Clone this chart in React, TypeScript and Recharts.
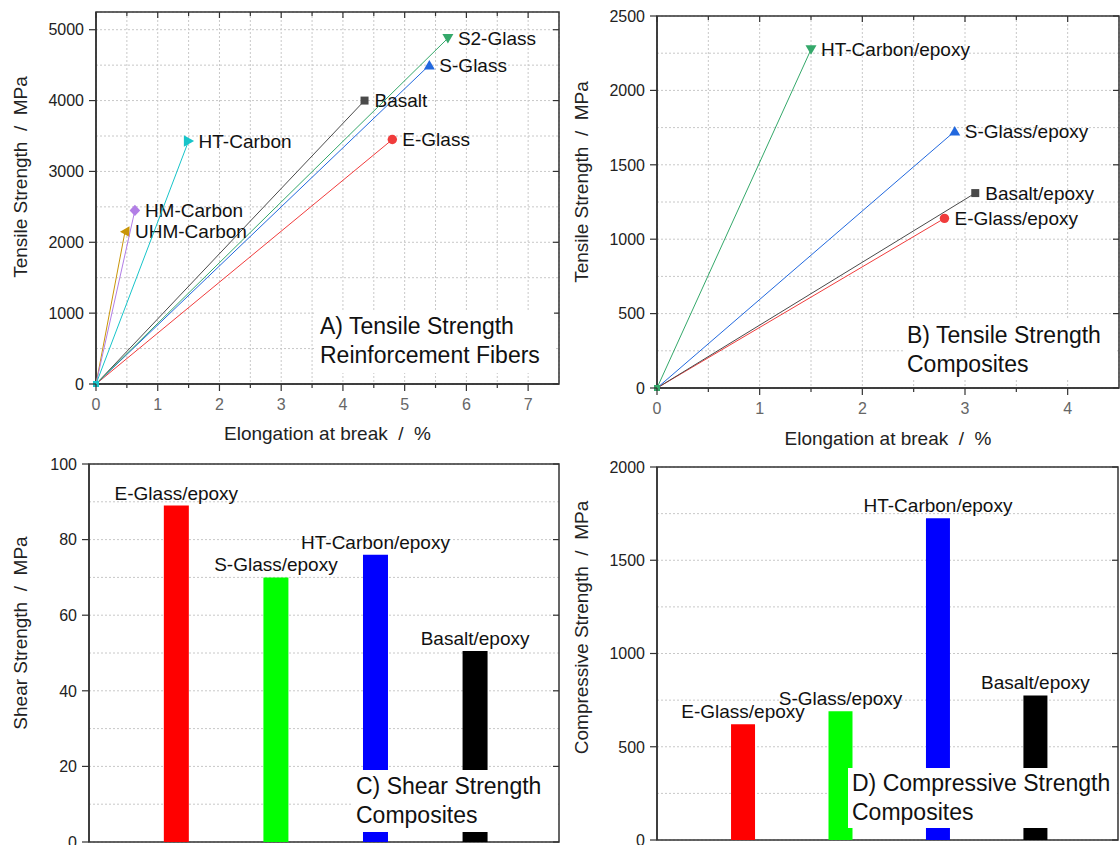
import React from 'react';
import {
  ScatterChart, Scatter, BarChart, Bar, Cell, XAxis, YAxis, CartesianGrid, LabelList, Label, ReferenceArea,
} from 'recharts';

const FONT = '"Liberation Sans", Arial, sans-serif';
const AXIS = '#333';
const GRID = '#c8c8c8';

// A) reinforcement fibres: elongation at break (%) vs tensile strength (MPa)
const fiberNames = ['E-Glass', 'S-Glass', 'Basalt', 'S2-Glass', 'UHM-Carbon', 'HM-Carbon', 'HT-Carbon'];
const fiberElongation = [4.8, 5.4, 4.35, 5.7, 0.47, 0.63, 1.5];
const fiberStrength = [3450, 4500, 4000, 4880, 2150, 2450, 3430];
const fiberColors = ['#f03c3c', '#2168de', '#4a4a4a', '#34a86a', '#c99508', '#b27ee6', '#17c4c9'];
const fiberMarkers = ['circle', 'up', 'square', 'down', 'left', 'diamond', 'right'];
const fiberXTicks = [0, 0.5, 1, 1.5, 2, 2.5, 3, 3.5, 4, 4.5, 5, 5.5, 6, 6.5, 7];
const fiberYTicks = [0, 500, 1000, 1500, 2000, 2500, 3000, 3500, 4000, 4500, 5000];

// B) composites: elongation at break (%) vs tensile strength (MPa)
const compNames = ['E-Glass/epoxy', 'Basalt/epoxy', 'S-Glass/epoxy', 'HT-Carbon/epoxy'];
const compElongation = [2.8, 3.1, 2.9, 1.5];
const compStrength = [1140, 1310, 1725, 2275];
const compColors = ['#f03c3c', '#4a4a4a', '#2168de', '#34a86a'];
const compMarkers = ['circle', 'square', 'up', 'down'];
const compXTicks = [0, 0.5, 1, 1.5, 2, 2.5, 3, 3.5, 4];
const compYTicks = [0, 250, 500, 750, 1000, 1250, 1500, 1750, 2000, 2250, 2500];

// C) shear and D) compressive strength of composites (MPa)
const barNames = ['E-Glass/epoxy', 'S-Glass/epoxy', 'HT-Carbon/epoxy', 'Basalt/epoxy'];
const shearValues = [89, 70, 76, 50.5];
const compressiveValues = [620, 690, 1725, 775];
const barColors = ['#ff0000', '#00ff00', '#0000ff', '#000000'];
const shearTicks = [0, 10, 20, 30, 40, 50, 60, 70, 80, 90, 100];
const compressiveTicks = [0, 250, 500, 750, 1000, 1250, 1500, 1750, 2000];

const TITLE_SEP = '\u00a0\u00a0/\u00a0\u00a0';

const fiberSeries = fiberNames.map((name, i) => ({
  name,
  data: [{ x: 0, y: 0 }, { x: fiberElongation[i], y: fiberStrength[i] }],
}));
const compSeries = compNames.map((name, i) => ({
  name,
  data: [{ x: 0, y: 0 }, { x: compElongation[i], y: compStrength[i] }],
}));
// column index (1..4) as the x position, like an Origin column plot
const shearData = barNames.map((name, i) => ({ name, pos: i + 1, value: shearValues[i] }));
const compressiveData = barNames.map((name, i) => ({ name, pos: i + 1, value: compressiveValues[i] }));

const isMajor = (v: number, step: number) => Math.abs(v / step - Math.round(v / step)) < 1e-6;

function markerShape(kind: string, cx: number, cy: number, color: string) {
  switch (kind) {
    case 'circle':
      return <circle cx={cx} cy={cy} r={4.7} fill={color} />;
    case 'square':
      return <rect x={cx - 4} y={cy - 4} width={8} height={8} fill={color} />;
    case 'up':
      return <polygon points={`${cx - 5.5},${cy + 4.3} ${cx + 5.5},${cy + 4.3} ${cx},${cy - 5.2}`} fill={color} />;
    case 'down':
      return <polygon points={`${cx - 5.5},${cy - 4.3} ${cx + 5.5},${cy - 4.3} ${cx},${cy + 5.2}`} fill={color} />;
    case 'right':
      return <polygon points={`${cx - 4.7},${cy - 5.7} ${cx - 4.7},${cy + 5.7} ${cx + 5.5},${cy}`} fill={color} />;
    case 'left':
      return <polygon points={`${cx + 4.5},${cy - 5.3} ${cx + 4.5},${cy + 5.3} ${cx - 5},${cy}`} fill={color} />;
    default:
      return <polygon points={`${cx},${cy - 5.6} ${cx + 5.3},${cy} ${cx},${cy + 5.6} ${cx - 5.3},${cy}`} fill={color} />;
  }
}

// end point gets the big marker plus its name; origin only a small square
function pointShape(kind: string, color: string, name: string) {
  return (props: any) => {
    const { cx, cy, payload } = props;
    if (payload.x === 0) {
      return <rect x={cx - 3} y={cy - 3} width={6} height={6} fill={color} />;
    }
    return (
      <g>
        {markerShape(kind, cx, cy, color)}
        <text x={cx + 10} y={cy} dy="0.36em" fontSize={19} fill="#111" fontFamily={FONT}>{name}</text>
      </g>
    );
  };
}

function bottomTick(step: number, plotTop: number, minor: boolean) {
  return (props: any) => {
    const { x, y, payload } = props;
    const major = isMajor(payload.value, step);
    if (!major && !minor) return <g />;
    return (
      <g>
        <line x1={x} x2={x} y1={y} y2={y + (major ? 7 : 4)} stroke={AXIS} strokeWidth={1.2} />
        <line x1={x} x2={x} y1={plotTop} y2={plotTop + (major ? 6 : 4)} stroke={AXIS} strokeWidth={1.2} />
        {major && (
          <text x={x} y={y + 20} dy="0.36em" textAnchor="middle" fontSize={16} fill="#666" fontFamily={FONT}>
            {payload.value}
          </text>
        )}
      </g>
    );
  };
}

function leftTick(step: number, plotRight: number) {
  return (props: any) => {
    const { x, y, payload } = props;
    if (!isMajor(payload.value, step)) return <g />;
    return (
      <g>
        <line x1={x} x2={x - 7} y1={y} y2={y} stroke={AXIS} strokeWidth={1.2} />
        <line x1={plotRight} x2={plotRight - 6} y1={y} y2={y} stroke={AXIS} strokeWidth={1.2} />
        <text x={x - 12} y={y} dy="0.36em" textAnchor="end" fontSize={16} fill="#222" fontFamily={FONT}>
          {payload.value}
        </text>
      </g>
    );
  };
}

function yTitle(text: string, dx: number, dy: number) {
  return (props: any) => {
    const vb = props.viewBox;
    const cx = vb.x + dx;
    const cy = vb.y + vb.height / 2 + dy;
    return (
      <text x={cx} y={cy} transform={`rotate(-90 ${cx} ${cy})`} textAnchor="middle" dominantBaseline="central"
        fontSize={19} fill="#222" fontFamily={FONT}>{text}</text>
    );
  };
}

function xTitle(text: string, dy: number) {
  return (props: any) => {
    const vb = props.viewBox;
    return (
      <text x={vb.x + vb.width / 2} y={vb.y + dy} textAnchor="middle" dominantBaseline="central"
        fontSize={19} fill="#222" fontFamily={FONT}>{text}</text>
    );
  };
}

const axisLine = { stroke: AXIS, strokeWidth: 1.5 };

function Note({ left, top, width, height, pt, lines }: any) {
  return (
    <div style={{
      position: 'absolute', left, top, width, height, background: '#fff', boxSizing: 'border-box',
      paddingLeft: 4, paddingTop: pt, fontSize: 23, lineHeight: '29px', color: '#111', whiteSpace: 'nowrap',
    }}>
      {lines.map((l: string) => <div key={l}>{l}</div>)}
    </div>
  );
}

function TensileChart({ series, colors, markers, xDomain, yDomain, xTicks, yTicks, yStep, margin, yWidth, xHeight, titles }: any) {
  const plotRight = 560 - margin.right;
  return (
    <ScatterChart width={560} height={450} margin={margin}>
      <CartesianGrid strokeDasharray="2 2" stroke={GRID} />
      <XAxis type="number" dataKey="x" domain={xDomain} ticks={xTicks} interval={0} height={xHeight}
        tickSize={0} tickMargin={0} tickLine={false} axisLine={axisLine} tick={bottomTick(1, margin.top, true)}>
        <Label content={xTitle('Elongation at break' + TITLE_SEP + '%', titles.xDy)} />
      </XAxis>
      <YAxis type="number" dataKey="y" domain={yDomain} ticks={yTicks} interval={0} width={yWidth}
        tickSize={0} tickMargin={0} tickLine={false} axisLine={axisLine} tick={leftTick(yStep, plotRight)}>
        <Label content={yTitle('Tensile Strength' + TITLE_SEP + 'MPa', titles.yDx, titles.yDy)} />
      </YAxis>
      {/* plot frame */}
      <ReferenceArea y1={yDomain[0]} y2={yDomain[1]} fill="none" stroke={AXIS} strokeWidth={1.5} />
      {series.map((s: any, i: number) => (
        <Scatter key={s.name} name={s.name} data={s.data} fill={colors[i]}
          line={{ stroke: colors[i], strokeWidth: 1 }} isAnimationActive={false}
          shape={pointShape(markers[i], colors[i], s.name)} />
      ))}
    </ScatterChart>
  );
}

function StrengthBars({ data, xDomain, yDomain, yTicks, yStep, margin, yWidth, barSize, title, titleDx, titleDy }: any) {
  const plotRight = 560 - margin.right;
  return (
    <BarChart width={560} height={395} data={data} margin={margin}>
      <CartesianGrid vertical={false} strokeDasharray="2 2" stroke={GRID} />
      <XAxis type="number" dataKey="pos" domain={xDomain} height={0} tick={false} tickLine={false} axisLine={axisLine} />
      <YAxis type="number" domain={yDomain} ticks={yTicks} interval={0} width={yWidth}
        tickSize={0} tickMargin={0} tickLine={false} axisLine={axisLine} tick={leftTick(yStep, plotRight)}>
        <Label content={yTitle(title, titleDx, titleDy)} />
      </YAxis>
      <Bar dataKey="value" barSize={barSize} isAnimationActive={false}>
        {data.map((d: any, i: number) => <Cell key={d.name} fill={barColors[i]} />)}
        <LabelList dataKey="name" position="top" offset={6} fontSize={19} fill="#111" fontFamily={FONT} />
      </Bar>
      {/* plot frame */}
      <ReferenceArea x1={xDomain[0]} x2={xDomain[1]} y1={yDomain[0]} y2={yDomain[1]} fill="none" stroke={AXIS} strokeWidth={1.5} />
    </BarChart>
  );
}

export default function App() {
  return (
    <div style={{ position: 'absolute', left: 0, top: 0, width: 1120, height: 845, background: '#fff', fontFamily: FONT, overflow: 'hidden' }}>
      <div style={{ position: 'absolute', left: 0, top: 0 }}>
        <TensileChart series={fiberSeries} colors={fiberColors} markers={fiberMarkers}
          xDomain={[0, 7.5]} yDomain={[0, 5250]} xTicks={fiberXTicks} yTicks={fiberYTicks} yStep={1000}
          margin={{ top: 12, right: 1, bottom: 0, left: 0 }} yWidth={96} xHeight={66}
          titles={{ xDy: 49, yDx: 20, yDy: -21 }} />
      </div>
      <div style={{ position: 'absolute', left: 560, top: 0 }}>
        <TensileChart series={compSeries} colors={compColors} markers={compMarkers}
          xDomain={[0, 4.5]} yDomain={[0, 2500]} xTicks={compXTicks} yTicks={compYTicks} yStep={500}
          margin={{ top: 16, right: 1, bottom: 0, left: 0 }} yWidth={97} xHeight={62}
          titles={{ xDy: 50, yDx: 21, yDy: -20 }} />
      </div>
      <div style={{ position: 'absolute', left: 0, top: 450 }}>
        <StrengthBars data={shearData} xDomain={[0.12, 4.84]} yDomain={[0, 100]} yTicks={shearTicks} yStep={20}
          margin={{ top: 14, right: 1, bottom: 3, left: 0 }} yWidth={89}
          barSize={25} title={'Shear Strength' + TITLE_SEP + 'MPa'} titleDx={20} titleDy={-20} />
      </div>
      <div style={{ position: 'absolute', left: 560, top: 450 }}>
        <StrengthBars data={compressiveData} xDomain={[0.12, 4.85]} yDomain={[0, 2000]} yTicks={compressiveTicks} yStep={500}
          margin={{ top: 17, right: 2, bottom: 5, left: 0 }} yWidth={97}
          barSize={24} title={'Compressive Strength' + TITLE_SEP + 'MPa'} titleDx={21} titleDy={-26} />
      </div>
      <Note left={316} top={311} width={238} height={62} pt={1} lines={['A) Tensile Strength', 'Reinforcement Fibers']} />
      <Note left={903} top={320} width={212} height={58} pt={1} lines={['B) Tensile Strength', 'Composites']} />
      <Note left={352} top={770} width={206} height={62} pt={2} lines={['C) Shear Strength', 'Composites']} />
      <Note left={848} top={768} width={268} height={60} pt={1} lines={['D) Compressive Strength', 'Composites']} />
    </div>
  );
}
